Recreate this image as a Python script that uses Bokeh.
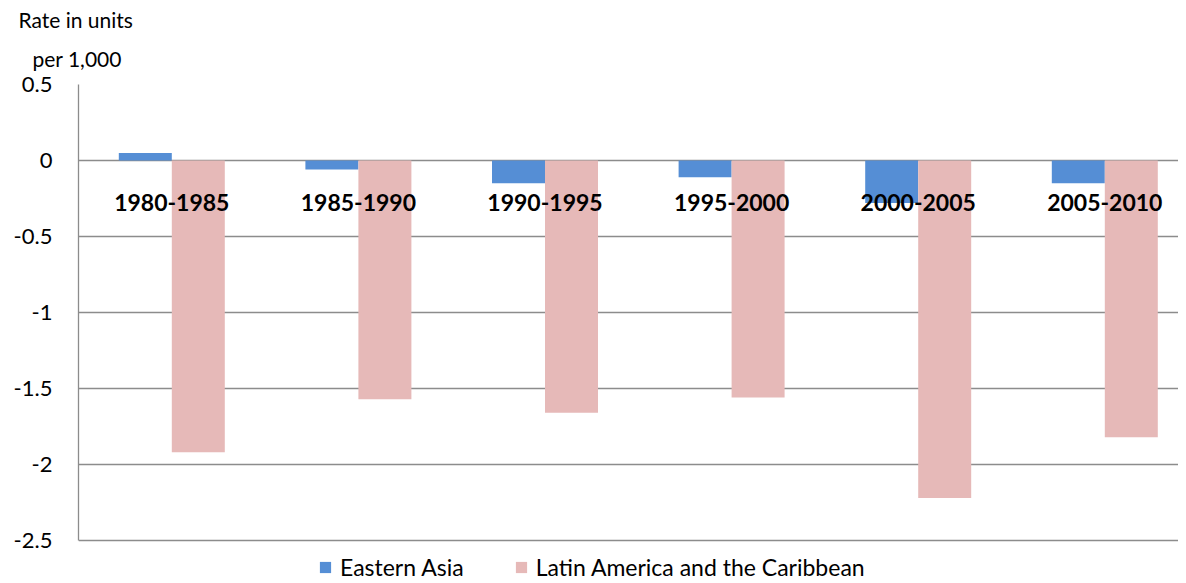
from bokeh.plotting import figure
from bokeh.models import (ColumnDataSource, FixedTicker, Legend, LegendItem,
                          Range1d, Title)
from bokeh.transform import dodge
from bokeh.core.properties import value
from bokeh.embed import file_html
from bokeh.resources import INLINE

periods = ["1980-1985", "1985-1990", "1990-1995", "1995-2000", "2000-2005", "2005-2010"]
eastern_asia = [0.05, -0.06, -0.15, -0.11, -0.28, -0.15]
latin_america = [-1.92, -1.57, -1.66, -1.56, -2.22, -1.82]
y_ticks = [-2.5, -2.0, -1.5, -1.0, -0.5, 0.0, 0.5]
series_names = ["Eastern Asia", "Latin America and the Caribbean"]
y_title = ["Rate in units", "per 1,000"]
colors = ["#558ED5", "#E6B9B8"]

FONT = "Lato"
pos = [i + 0.5 for i in range(len(periods))]
src = ColumnDataSource(dict(x=pos, period=periods, ea=eastern_asia, la=latin_america))

W = 1178
H = 581
TOP = 84
LEFT = 78
PX_PER_UNIT = 152.0
CAT_PX = 186.6
p = figure(width=W, height=H, output_backend="svg", toolbar_location=None,
           x_range=Range1d(0, (W - LEFT) / CAT_PX),
           y_range=Range1d(0.5 - (H - TOP) / PX_PER_UNIT, 0.5),
           x_axis_location=None, min_border_left=LEFT, min_border_right=0,
           min_border_top=TOP, min_border_bottom=0)
p.outline_line_color = None
p.background_fill_color = "white"
p.xgrid.visible = False
p.ygrid.ticker = FixedTicker(ticks=y_ticks)
p.ygrid.grid_line_color = "#8c8c8c"
p.ygrid.grid_line_width = 1.3

ax = p.yaxis[0]
ax.ticker = FixedTicker(ticks=y_ticks)
ax.bounds = (-2.5, 0.5)
ax.major_label_overrides = {t: f"{t:g}" for t in y_ticks}
ax.axis_line_color = "#8c8c8c"
ax.axis_line_width = 1.3
ax.major_tick_line_color = None
ax.minor_tick_line_color = None
ax.major_tick_out = 0
ax.major_tick_in = 0
ax.major_label_standoff = 26
ax.major_label_text_font = FONT
ax.major_label_text_font_size = "22px"
ax.major_label_text_color = "black"

bw = 0.284
r1 = p.vbar(x=dodge("x", -bw / 2, range=p.x_range), top="ea", bottom=0, width=bw,
            source=src, fill_color=colors[0], line_color=None)
r2 = p.vbar(x=dodge("x", bw / 2, range=p.x_range), top="la", bottom=0, width=bw,
            source=src, fill_color=colors[1], line_color=None)

p.text(x="x", y=0, text="period", source=src, text_align="center",
       text_baseline="middle", y_offset=42, text_font=value(FONT),
       text_font_size="23px", text_font_style="bold", text_color="black")

# axis title: two stacked titles above the frame (later one sits further up)
p.add_layout(Title(text=y_title[1], align="left", offset=-46, standoff=28,
                   text_font=FONT, text_font_size="21px", text_font_style="normal",
                   text_color="black"), "above")
p.add_layout(Title(text=y_title[0], align="left", offset=-60, standoff=-4,
                   text_font=FONT, text_font_size="21px", text_font_style="normal",
                   text_color="black"), "above")

legend = Legend(items=[LegendItem(label=series_names[0], renderers=[r1]),
                       LegendItem(label=series_names[1], renderers=[r2])],
                orientation="horizontal", location=(240, 0),
                glyph_width=14, glyph_height=14, label_standoff=8, spacing=50,
                padding=0, margin=0, border_line_color=None,
                background_fill_alpha=0, label_text_font=FONT,
                label_text_font_size="23px", label_text_color="black")
p.add_layout(legend, "center")

open("out.html", "w").write(file_html(p, INLINE))
